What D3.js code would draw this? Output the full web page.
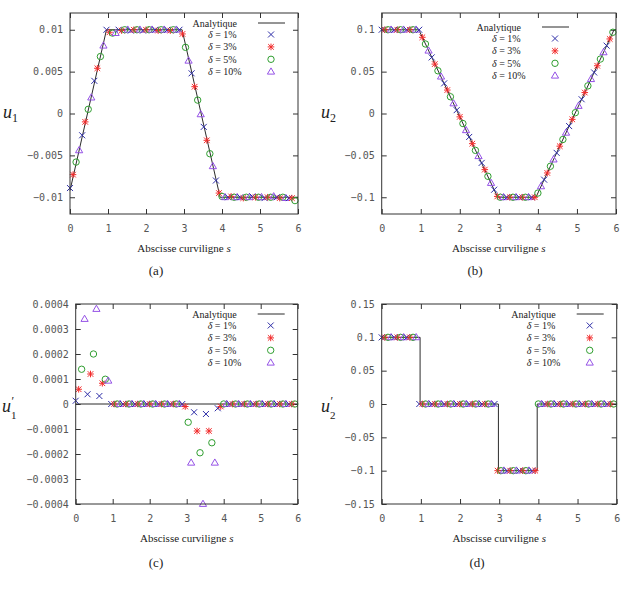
<!DOCTYPE html>
<html>
<head>
<meta charset="utf-8">
<script src="https://cdn.jsdelivr.net/npm/d3@7"></script>
<style>
  body { margin: 0; background: #fff; }
  svg { display: block; }
</style>
</head>
<body>
<div id="chart"></div>
<script>
// Abscissa of the sampled points (every point of the grid, series alternate along it)
const sGrid = [0, 0.08, 0.16, 0.24, 0.32, 0.4, 0.48, 0.56, 0.64, 0.72, 0.8, 0.88, 0.96,
  1.04, 1.12, 1.2, 1.28, 1.36, 1.44, 1.52, 1.6, 1.68, 1.76, 1.84, 1.92, 2, 2.08, 2.16,
  2.24, 2.32, 2.4, 2.48, 2.56, 2.64, 2.72, 2.8, 2.88, 2.96, 3.04, 3.12, 3.2, 3.28, 3.36,
  3.44, 3.52, 3.6, 3.68, 3.76, 3.84, 3.92, 4, 4.08, 4.16, 4.24, 4.32, 4.4, 4.48, 4.56,
  4.64, 4.72, 4.8, 4.88, 4.96, 5.04, 5.12, 5.2, 5.28, 5.36, 5.44, 5.52, 5.6, 5.68, 5.76,
  5.84, 5.92];

// (a) u1
const u1Pts = [-0.0089, -0.0073, -0.0058, -0.0044, -0.0026, -0.0010, 0.0005, 0.0019, 0.0039,
  0.0054, 0.0068, 0.0081, 0.0100, 0.0097, 0.0096, 0.0096,
  0.0100, 0.0099, 0.0100, 0.0100, 0.0099, 0.0100, 0.0100, 0.0100, 0.0099, 0.0100, 0.0100,
  0.0100, 0.0100, 0.0099, 0.0100, 0.0100, 0.0100, 0.0099, 0.0100, 0.0100, 0.0100,
  0.0095, 0.0079, 0.0063, 0.0048, 0.0032, 0.0016, -0.0001, -0.0016, -0.0032, -0.0048,
  -0.0063, -0.0080, -0.0095, -0.0099,
  -0.0100, -0.0100, -0.0099, -0.0100, -0.0100, -0.0100, -0.0101, -0.0100, -0.0100, -0.0099,
  -0.0100, -0.0100, -0.0100, -0.0101, -0.0100, -0.0100, -0.0099, -0.0100, -0.0101, -0.0100,
  -0.0101, -0.0101, -0.0101, -0.0104];
const u1LineS = [0, 0.96, 2.95, 3.95, 6];
const u1LineV = [-0.0092, 0.01, 0.01, -0.01, -0.01];

// (b) u2
const u2Pts = [0.1, 0.1, 0.1, 0.1, 0.1, 0.1, 0.1, 0.1, 0.1, 0.1, 0.1, 0.1, 0.1,
  0.091, 0.083, 0.075, 0.067, 0.059, 0.051, 0.044, 0.036, 0.028, 0.020, 0.012, 0.004,
  -0.004, -0.012, -0.020, -0.028, -0.036, -0.044, -0.051, -0.059, -0.067, -0.075, -0.083,
  -0.091, -0.099,
  -0.1, -0.1, -0.1, -0.1, -0.1, -0.1, -0.1, -0.1, -0.1, -0.1, -0.1, -0.1,
  -0.095, -0.087, -0.079, -0.071, -0.063, -0.055, -0.047, -0.039, -0.031, -0.023, -0.015,
  -0.007, 0.001, 0.009, 0.017, 0.025, 0.033, 0.041, 0.049, 0.057, 0.065, 0.073, 0.081,
  0.089, 0.097];
const u2LineS = [0, 0.95, 2.97, 3.95, 5.95, 6];
const u2LineV = [0.1, 0.1, -0.1, -0.1, 0.1, 0.1];

// (c) u1'
const du1Pts = [0.000013, 0.000059, 0.000139, 0.00034, 0.000039, 0.00012, 0.0002, 0.00038,
  0.000032, 0.000083, 0.000099, 0.000093,
  0, 0, 0, 0, 0, 0, 0, 0, 0, 0, 0, 0, 0, 0, 0, 0, 0, 0, 0, 0, 0, 0, 0, 0, 0,
  -0.00001, -0.000073, -0.000235, -0.000033, -0.000108, -0.000195, -0.0004, -0.00004,
  -0.000108, -0.000155, -0.000235, -0.000017, -0.00001,
  0, 0, 0, 0, 0, 0, 0, 0, 0, 0, 0, 0, 0, 0, 0, 0, 0, 0, 0, 0, 0, 0, 0, 0, 0];
const du1LineS = [0, 6];
const du1LineV = [0, 0];

// (d) u2'
const du2Pts = [0.1, 0.1, 0.1, 0.1, 0.1, 0.1, 0.1, 0.1, 0.1, 0.1, 0.1, 0.1,
  0, 0, 0, 0, 0, 0, 0, 0, 0, 0, 0, 0, 0, 0, 0, 0, 0, 0, 0, 0, 0, 0, 0, 0, 0,
  -0.1, -0.1, -0.1, -0.1, -0.1, -0.1, -0.1, -0.1, -0.1, -0.1, -0.1, -0.1, -0.1,
  0, 0, 0, 0, 0, 0, 0, 0, 0, 0, 0, 0, 0, 0, 0, 0, 0, 0, 0, 0, 0, 0, 0, 0, 0];
const du2LineS = [0, 0.98, 0.98, 2.98, 2.98, 3.97, 3.97, 6];
const du2LineV = [0.1, 0.1, 0, 0, -0.1, -0.1, 0, 0];

const xTicks = [0, 1, 2, 3, 4, 5, 6];
const yTicksA = [-0.01, -0.005, 0, 0.005, 0.01];
const yTicksB = [-0.1, -0.05, 0, 0.05, 0.1];
const yTicksC = [-0.0004, -0.0003, -0.0002, -0.0001, 0, 0.0001, 0.0002, 0.0003, 0.0004];
const yTicksD = [-0.15, -0.1, -0.05, 0, 0.05, 0.1, 0.15];

const legendPct = ['1%', '3%', '5%', '10%'];
const seriesColors = ['#2e2ea8', '#f22c2c', '#2f9e2f', '#9552e6'];

const W = 628, H = 592;
const SERIF = '"Liberation Serif", "DejaVu Serif", serif';
const MONO = '"DejaVu Sans Mono", "Liberation Mono", monospace';

const svg = d3.select('#chart').append('svg')
  .attr('width', W).attr('height', H)
  .style('background', '#fff');

// Marker path for series k centred at (x, y)
function markerPath(k, x, y) {
  if (k === 0) {
    return `M${x - 3},${y - 3}L${x + 3},${y + 3}M${x - 3},${y + 3}L${x + 3},${y - 3}`;
  }
  if (k === 1) {
    return `M${x - 2.8},${y - 2.8}L${x + 2.8},${y + 2.8}M${x - 2.8},${y + 2.8}L${x + 2.8},${y - 2.8}` +
      `M${x - 3.3},${y}L${x + 3.3},${y}M${x},${y - 3.3}L${x},${y + 3.3}`;
  }
  if (k === 2) {
    const r = 3.2;
    return `M${x + r},${y}A${r},${r} 0 1,1 ${x - r},${y}A${r},${r} 0 1,1 ${x + r},${y}Z`;
  }
  return `M${x},${y - 3.8}L${x + 3.6},${y + 2.4}L${x - 3.6},${y + 2.4}Z`;
}

const fmt = v => (v === 0 ? '0' : String(v).replace('-', '\u2212'));

const panels = [
  { x0: 70, x1: 298, y0: 13, y1: 214, yDomain: [-0.012, 0.012], yTicks: yTicksA,
    pts: u1Pts, lineS: u1LineS, lineV: u1LineV, sub: '1', prime: false,
    yLab: [3, 118], xLabY: 252, cap: '(a)', capX: 156, capY: 275, leg: [-61, 0] },
  { x0: 381.7, x1: 616, y0: 13, y1: 214, yDomain: [-0.12, 0.12], yTicks: yTicksB,
    pts: u2Pts, lineS: u2LineS, lineV: u2LineV, sub: '2', prime: false,
    yLab: [321, 118], xLabY: 252, cap: '(b)', capX: 475, capY: 275, leg: [-95, 4] },
  { x0: 75.7, x1: 297.7, y0: 304, y1: 504, yDomain: [-0.0004, 0.0004], yTicks: yTicksC,
    pts: du1Pts, lineS: du1LineS, lineV: du1LineV, sub: '1', prime: true,
    yLab: [2, 412], xLabY: 542, cap: '(c)', capX: 156, capY: 567, leg: [-61, 0] },
  { x0: 381.7, x1: 616.7, y0: 304, y1: 504, yDomain: [-0.15, 0.15], yTicks: yTicksD,
    pts: du2Pts, lineS: du2LineS, lineV: du2LineV, sub: '2', prime: true,
    yLab: [321, 412], xLabY: 542, cap: '(d)', capX: 477, capY: 567, leg: [-61, 0] }
];

panels.forEach(p => {
  const x = d3.scaleLinear().domain([0, 6]).range([p.x0, p.x1]);
  const y = d3.scaleLinear().domain(p.yDomain).range([p.y1, p.y0]);
  const g = svg.append('g');

  // Axes: inward ticks mirrored on all four sides
  const styleAxis = sel => {
    sel.attr('font-family', MONO).attr('font-size', 10);
    sel.select('.domain').remove();
    sel.selectAll('.tick line').attr('stroke', '#333').attr('stroke-width', 1);
    sel.selectAll('.tick text')
      .attr('fill', '#555')
      .style('font-family', MONO)
      .style('font-size', '10px');
  };
  g.append('g').attr('transform', `translate(${p.x0},0)`)
    .call(d3.axisLeft(y).tickValues(p.yTicks).tickSize(-5).tickPadding(7).tickFormat(fmt))
    .call(styleAxis);
  g.append('g').attr('transform', `translate(${p.x1},0)`)
    .call(d3.axisRight(y).tickValues(p.yTicks).tickSize(-5).tickFormat(''))
    .call(styleAxis);
  g.append('g').attr('transform', `translate(0,${p.y1})`)
    .call(d3.axisBottom(x).tickValues(xTicks).tickSize(-5).tickPadding(11).tickFormat(d3.format('d')))
    .call(styleAxis);
  g.append('g').attr('transform', `translate(0,${p.y0})`)
    .call(d3.axisTop(x).tickValues(xTicks).tickSize(-5).tickFormat(''))
    .call(styleAxis);

  // Analytic solution
  const line = d3.line().x(d => x(d[0])).y(d => y(d[1]));
  g.append('path')
    .datum(p.lineS.map((s, i) => [s, p.lineV[i]]))
    .attr('d', line)
    .attr('fill', 'none')
    .attr('stroke', '#2b2b2b')
    .attr('stroke-width', 1);

  // Noisy reconstructions: one grid point out of four for each series
  const pts = sGrid.map((s, j) => ({ s, v: p.pts[j], k: j % 4 }));
  g.append('g').selectAll('path')
    .data(pts)
    .join('path')
    .attr('d', d => markerPath(d.k, x(d.s), y(d.v)))
    .attr('fill', 'none')
    .attr('stroke', d => seriesColors[d.k])
    .attr('stroke-width', 1);

  // Frame
  g.append('rect')
    .attr('x', p.x0).attr('y', p.y0)
    .attr('width', p.x1 - p.x0).attr('height', p.y1 - p.y0)
    .attr('fill', 'none').attr('stroke', '#333').attr('stroke-width', 1);

  // Legend
  const lx = p.x1 + p.leg[0], ly = p.y0 + p.leg[1];
  const leg = g.append('g').style('font-family', SERIF).style('font-size', '10px').attr('fill', '#222');
  leg.append('text').attr('x', lx).attr('y', ly + 14).attr('text-anchor', 'end').text('Analytique');
  leg.append('line')
    .attr('x1', lx + 21).attr('x2', lx + 48).attr('y1', ly + 10).attr('y2', ly + 10)
    .attr('stroke', '#2b2b2b').attr('stroke-width', 1);
  legendPct.forEach((pct, k) => {
    const cy = ly + 21.5 + k * 12.4;
    const t = leg.append('text').attr('x', lx - 29).attr('y', cy + 3.5);
    t.append('tspan').style('font-style', 'italic').text('\u03b4');
    t.append('tspan').text(' = ' + pct);
    leg.append('path')
      .attr('d', markerPath(k, lx + 34, cy))
      .attr('fill', 'none').attr('stroke', seriesColors[k]).attr('stroke-width', 1);
  });

  // Axis titles
  const xl = g.append('text')
    .attr('x', (p.x0 + p.x1) / 2).attr('y', p.xLabY)
    .attr('text-anchor', 'middle')
    .style('font-family', SERIF).style('font-size', '11px').attr('fill', '#222');
  xl.append('tspan').text('Abscisse curviligne ');
  xl.append('tspan').style('font-style', 'italic').text('s');

  // y title: u with subscript (and prime stacked above it for the derivatives)
  const [tx, ty] = p.yLab;
  const yl = g.append('text')
    .attr('x', tx).attr('y', ty)
    .style('font-family', SERIF).style('font-size', '18px').attr('fill', '#222');
  yl.append('tspan').style('font-style', 'italic').text('u');
  if (p.prime) {
    g.append('text')
      .attr('x', tx + 9.5).attr('y', ty - 7)
      .style('font-family', SERIF).style('font-size', '12px').attr('fill', '#222')
      .text('\u2032');
    g.append('text')
      .attr('x', tx + 9).attr('y', ty + 7)
      .style('font-family', SERIF).style('font-size', '11px').attr('fill', '#222')
      .text(p.sub);
  } else {
    yl.append('tspan').attr('dy', 4).style('font-size', '12px').text(p.sub);
  }

  // Caption
  g.append('text')
    .attr('x', p.capX).attr('y', p.capY)
    .attr('text-anchor', 'middle')
    .style('font-family', SERIF).style('font-size', '13px').attr('fill', '#222')
    .text(p.cap);
});
</script>
</body>
</html>
